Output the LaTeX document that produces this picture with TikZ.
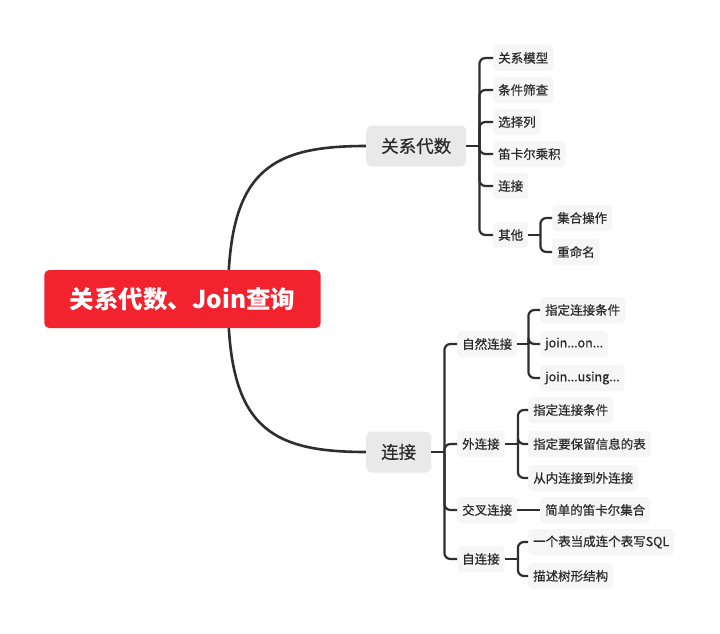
\documentclass[tikz,border=0pt]{standalone}
\usepackage{fontspec}
\newfontfamily\cjk{Noto Sans CJK SC}
\newfontfamily\cjkm[FakeBold=0.6]{Noto Sans CJK SC}
\usetikzlibrary{backgrounds}
\definecolor{rootred}{HTML}{F2222F}
\definecolor{lonegray}{HTML}{E9E9E9}
\definecolor{leafgray}{HTML}{F6F6F6}
\definecolor{linecol}{HTML}{2E2E2E}
\definecolor{txtcol}{HTML}{2B2B2B}
\begin{document}
\begin{tikzpicture}[x=1pt,y=-1pt,
  rootbox/.style={fill=rootred,rounded corners=5pt,inner xsep=25.5pt,minimum height=58pt,text=white,font=\cjk\bfseries\fontsize{24.5}{28}\selectfont},
  lone/.style={anchor=west,fill=lonegray,rounded corners=6pt,inner xsep=15pt,minimum height=41pt,text=txtcol,font=\cjkm\fontsize{17.5}{21}\selectfont},
  leaf/.style={anchor=west,fill=leafgray,rounded corners=4pt,inner xsep=5pt,inner ysep=0pt,minimum height=26pt,text=txtcol,font=\cjkm\fontsize{12.5}{15}\selectfont},
  curve/.style={draw=linecol,line width=2.6pt},
  conn/.style={draw=linecol,line width=2.2pt,rounded corners=6pt}]
\useasboundingbox (0,0) rectangle (720,634);

\node[rootbox] (root) at (182.5,299) {关系代数、Join查询};
\node[lone] (ra) at (366,146) {关系代数};
\node[lone] (lj) at (366,452) {连接};

% children of 关系代数
\node[leaf] (a1) at (493,58) {关系模型};
\node[leaf] (a2) at (493,90) {条件筛查};
\node[leaf] (a3) at (493,122) {选择列};
\node[leaf] (a4) at (493,154) {笛卡尔乘积};
\node[leaf] (a5) at (493,186) {连接};
\node[leaf] (a6) at (493,235) {其他};
\node[leaf] (a61) at (552,218) {集合操作};
\node[leaf] (a62) at (552,252) {重命名};

% children of 连接
\node[leaf] (b1) at (457,344) {自然连接};
\node[leaf] (b2) at (457,444) {外连接};
\node[leaf] (b3) at (457,510) {交叉连接};
\node[leaf] (b4) at (457,559) {自连接};
\node[leaf] (b11) at (540,310) {指定连接条件};
\node[leaf] (b12) at (540,344) {join...on...};
\node[leaf] (b13) at (540,378) {join...using...};
\node[leaf] (b21) at (528,410) {指定连接条件};
\node[leaf] (b22) at (528,444) {指定要保留信息的表};
\node[leaf] (b23) at (528,478) {从内连接到外连接};
\node[leaf] (b31) at (540,510) {简单的笛卡尔集合};
\node[leaf] (b41) at (528,542) {一个表当成连个表写SQL};
\node[leaf] (b42) at (528,576) {描述树形结构};

\begin{scope}[on background layer]
\fill[white] (0,0) rectangle (720,634);
\coordinate (rootout) at (228,299);
\draw[curve] (rootout) .. controls (228,172) and (268,146) .. (ra.west);
\draw[curve] (rootout) .. controls (228,426) and (268,452) .. (lj.west);
\end{scope}

% bracket 关系代数
\draw[conn] (ra.east) -- ++(13,0) coordinate (ab);
\foreach \c in {a1,a2,a3,a4,a5,a6} \draw[conn] (ab) |- (\c.west);
% bracket 其他
\draw[conn] (a6.east) -- ++(12,0) coordinate (a6b);
\foreach \c in {a61,a62} \draw[conn] (a6b) |- (\c.west);

% bracket 连接
\draw[conn] (lj.east) -- ++(13,0) coordinate (bb);
\foreach \c in {b1,b2,b3,b4} \draw[conn] (bb) |- (\c.west);
\draw[conn] (b1.east) -- ++(11,0) coordinate (b1b);
\foreach \c in {b11,b12,b13} \draw[conn] (b1b) |- (\c.west);
\draw[conn] (b2.east) -- ++(13,0) coordinate (b2b);
\foreach \c in {b21,b22,b23} \draw[conn] (b2b) |- (\c.west);
\draw[conn] (b3.east) -- (b31.west);
\draw[conn] (b4.east) -- ++(13,0) coordinate (b4b);
\foreach \c in {b41,b42} \draw[conn] (b4b) |- (\c.west);
\end{tikzpicture}
\end{document}
